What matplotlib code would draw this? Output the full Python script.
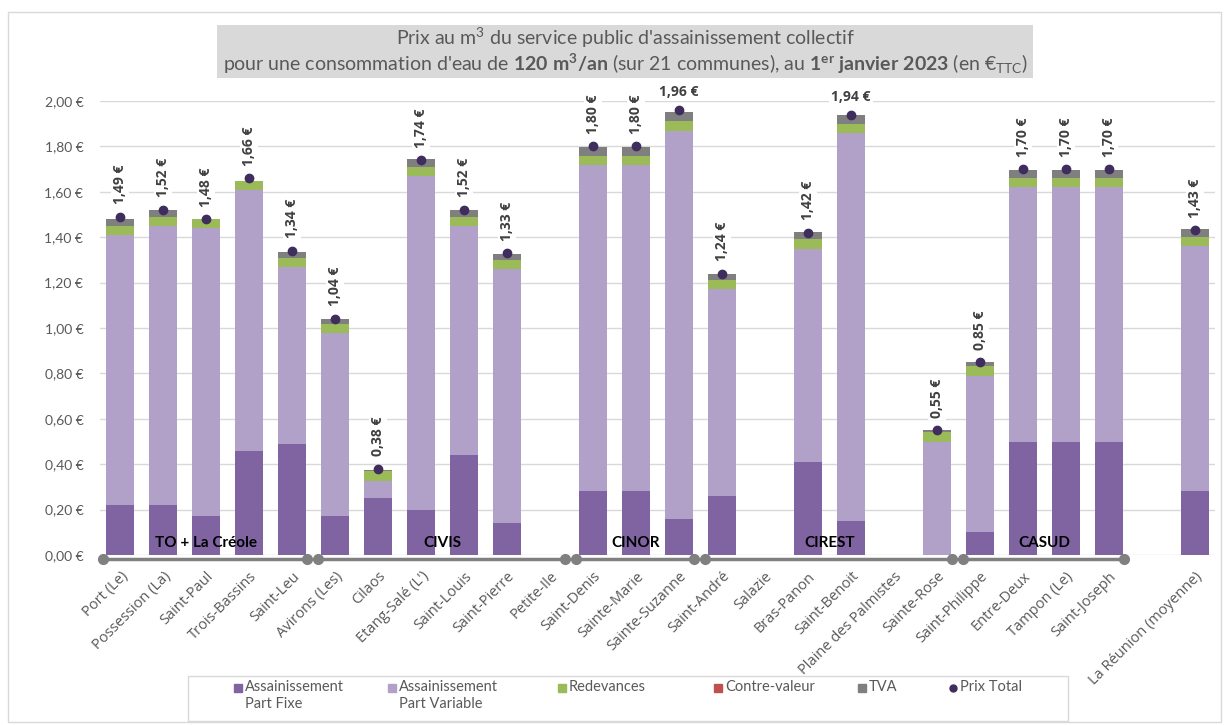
import numpy as np
import matplotlib.pyplot as plt
from matplotlib.patches import Rectangle
from matplotlib.lines import Line2D

plt.rcParams['font.family'] = ['Lato', 'DejaVu Sans']
plt.rcParams['mathtext.fontset'] = 'custom'
plt.rcParams['mathtext.rm'] = 'Lato'
plt.rcParams['mathtext.bf'] = 'Lato:bold'
plt.rcParams['mathtext.it'] = 'Lato:italic'

# communes (one blank slot before the island average)
communes = ["Port (Le)", "Possession (La)", "Saint-Paul", "Trois-Bassins", "Saint-Leu",
            "Avirons (Les)", "Cilaos", "Etang-Salé (L')", "Saint-Louis", "Saint-Pierre", "Petite-Ile",
            "Saint-Denis", "Sainte-Marie", "Sainte-Suzanne",
            "Saint-André", "Salazie", "Bras-Panon", "Saint-Benoit", "Plaine des Palmistes", "Sainte-Rose",
            "Saint-Philippe", "Entre-Deux", "Tampon (Le)", "Saint-Joseph",
            "", "La Réunion (moyenne)"]

part_fixe = [0.22, 0.22, 0.17, 0.46, 0.49,
             0.17, 0.25, 0.20, 0.44, 0.14, 0,
             0.28, 0.28, 0.16,
             0.26, 0, 0.41, 0.15, 0, 0,
             0.10, 0.50, 0.50, 0.50,
             0, 0.28]
part_variable = [1.19, 1.23, 1.27, 1.15, 0.78,
                 0.81, 0.075, 1.47, 1.01, 1.12, 0,
                 1.44, 1.44, 1.71,
                 0.91, 0, 0.94, 1.71, 0, 0.50,
                 0.69, 1.12, 1.12, 1.12,
                 0, 1.08]
redevances = [0.041, 0.041, 0.04, 0.039, 0.039,
              0.039, 0.045, 0.04, 0.04, 0.038, 0,
              0.039, 0.039, 0.041,
              0.041, 0, 0.041, 0.04, 0, 0.041,
              0.042, 0.04, 0.04, 0.04,
              0, 0.041]
contre_valeur = [0] * 26
tva = [0.03, 0.03, 0, 0, 0.025,
       0.02, 0.005, 0.035, 0.03, 0.03, 0,
       0.04, 0.04, 0.04,
       0.025, 0, 0.03, 0.04, 0, 0.01,
       0.02, 0.035, 0.035, 0.035,
       0, 0.035]
prix_total = [1.49, 1.52, 1.48, 1.66, 1.34,
              1.04, 0.38, 1.74, 1.52, 1.33, np.nan,
              1.80, 1.80, 1.96,
              1.24, np.nan, 1.42, 1.94, np.nan, 0.55,
              0.85, 1.70, 1.70, 1.70,
              np.nan, 1.43]

# (name, first index, last index)
groups = [("TO + La Créole", 0, 4), ("CIVIS", 5, 10), ("CINOR", 11, 13),
          ("CIREST", 14, 19), ("CASUD", 20, 23)]

yticks = [0, 0.2, 0.4, 0.6, 0.8, 1.0, 1.2, 1.4, 1.6, 1.8, 2.0]

C_FIXE = '#8064A2'
C_VAR = '#B1A0C7'
C_RED = '#9BBB59'
C_CV = '#C0504D'
C_TVA = '#7F7F7F'
C_DOT = '#3F2D5E'
TXT = '#595959'
W, H = 1228, 725

fig = plt.figure(figsize=(12.28, 7.25), dpi=100)
ax = fig.add_axes([100/W, 1 - 555/H, 1115/W, 454/H])

x = np.arange(len(communes))
w = 0.65
bottom = np.zeros(len(x))
for vals, col in [(part_fixe, C_FIXE), (part_variable, C_VAR), (redevances, C_RED),
                  (contre_valeur, C_CV), (tva, C_TVA)]:
    vals = np.array(vals, dtype=float)
    ax.bar(x, vals, w, bottom=bottom, color=col, zorder=3)
    bottom += vals

ax.plot(x, prix_total, 'o', color=C_DOT, ms=6, zorder=5)

# value labels - the two tallest ones are horizontal in the original
for i, v in enumerate(prix_total):
    if np.isnan(v):
        continue
    lab = f"{v:.2f} €".replace('.', ',')
    if v > 1.9:
        ax.annotate(lab, (i, v), xytext=(0, 8), textcoords='offset points',
                    ha='center', va='bottom', fontsize=10, fontweight='bold',
                    color='#404040', family=['Open Sans', 'DejaVu Sans'],
                    bbox=dict(fc='white', ec='none', pad=1.5), zorder=6,
                    annotation_clip=False)
    else:
        ax.annotate(lab, (i, v), xytext=(0, 9), textcoords='offset points',
                    ha='center', va='bottom', rotation=90, fontsize=10, fontweight='bold',
                    color='#404040', family=['Open Sans', 'DejaVu Sans'],
                    bbox=dict(fc='white', ec='none', pad=1.5), zorder=6)

# group lines under the axis
for name, a, b in groups:
    ax.plot([a - 0.4, b + 0.35], [-0.018, -0.018], color='#808080', lw=2.5,
            marker='o', ms=7, clip_on=False, zorder=4)
    ax.text((a + b) / 2, 0.055, name, ha='center', va='center', fontsize=11,
            fontweight='bold', color='black', zorder=6)

ax.set_xlim(-0.47, 25.47)
ax.set_ylim(0, 2.0)
ax.set_yticks(yticks)
ax.set_yticklabels([f"{t:.2f} €".replace('.', ',') for t in yticks], color=TXT, fontsize=10)
ax.set_xticks(x)
ax.set_xticklabels(communes, rotation=45, ha='right', rotation_mode='anchor',
                   fontsize=10.5, color=TXT, family=['Open Sans', 'DejaVu Sans'])
ax.tick_params(axis='both', length=0)
ax.tick_params(axis='y', pad=12)
ax.tick_params(axis='x', pad=10)
ax.grid(axis='y', color='#D9D9D9', lw=1, zorder=0)
ax.set_axisbelow(True)
for s in ax.spines.values():
    s.set_visible(False)

# title box
fig.patches.append(Rectangle((217/W, 1 - 78/H), 816/W, 53/H,
                             transform=fig.transFigure, fc='#D9D9D9', ec='none', zorder=0))
fig.text(625/W, 1 - 38/H, r"Prix au $\mathrm{m}^3$ du service public d'assainissement collectif",
         ha='center', va='center', fontsize=14, color=TXT)
fig.text(625/W, 1 - 64/H,
         r"pour une consommation d'eau de $\mathbf{120\ m^3/an}$ (sur 21 communes), au "
         r"$\mathbf{1^{er}\ janvier\ 2023}$ (en €${}_{\mathrm{TTC}}$)",
         ha='center', va='center', fontsize=14, color=TXT)

# outer frame
fig.patches.append(Rectangle((8/W, 1 - 722/H), 1213/W, 710/H,
                             transform=fig.transFigure, fc='none', ec='#D9D9D9', lw=1))

# legend drawn by hand so the markers line up with the first text line like in Excel
fig.patches.append(Rectangle((188/W, 1 - 721/H), 880/W, 45/H,
                             transform=fig.transFigure, fc='white', ec='#D9D9D9', lw=1))
leg_labels = ["Assainissement\nPart Fixe", "Assainissement\nPart Variable", "Redevances",
              "Contre-valeur", "TVA", "Prix Total"]
leg_colors = [C_FIXE, C_VAR, C_RED, C_CV, C_TVA, C_DOT]
leg_markers = ['s', 's', 's', 's', 's', 'o']
leg_x = [238, 392, 562, 718, 862, 953]
for lab, col, mk, lx in zip(leg_labels, leg_colors, leg_markers, leg_x):
    fig.add_artist(Line2D([lx/W], [1 - 688/H], marker=mk, color=col, ls='none',
                          ms=6 if mk == 's' else 5, transform=fig.transFigure))
    fig.text((lx + 7)/W, 1 - 680/H, lab, ha='left', va='top', fontsize=10.5,
             color=TXT, linespacing=1.3)

fig.savefig('out.png', dpi=100)
